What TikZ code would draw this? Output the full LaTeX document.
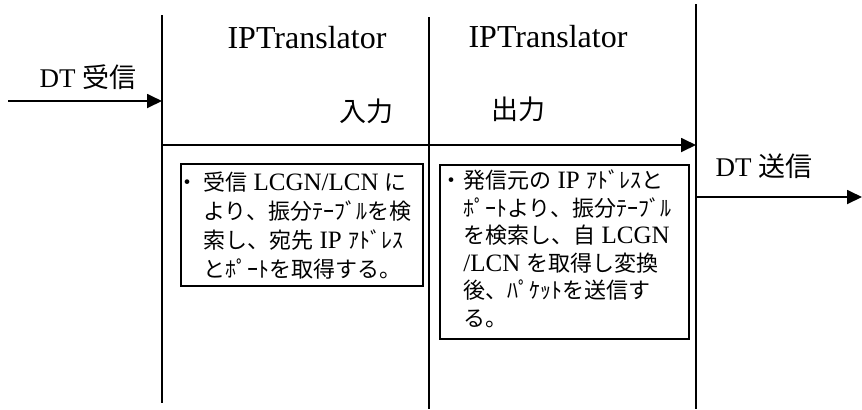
\documentclass[tikz,border=0pt]{standalone}
\usepackage{fontspec}
\setmainfont{Liberation Serif}
\newfontfamily\jp{Noto Sans CJK JP}
\newcommand\J[1]{{\fontsize{11}{13}\selectfont\jp #1}}
\usetikzlibrary{arrows.meta}
\begin{document}
\begin{tikzpicture}[x=0.5pt,y=-0.5pt,
  arr/.style={line width=0.9pt,-{Triangle[length=7.5pt,width=7pt]}},
  lane/.style={line width=0.9pt},
  box/.style={draw,line width=1.2pt},
  hdr/.style={font=\fontsize{16}{19}\selectfont,inner sep=0pt},
  lbl/.style={font=\fontsize{13.5}{16}\selectfont,inner sep=0pt},
  txt/.style={font=\fontsize{12.5}{14}\selectfont,inner sep=0pt,anchor=base west},
  bul/.style={font=\fontsize{11}{13}\selectfont\jp,inner sep=0pt,anchor=base},
]
\useasboundingbox (0,0) rectangle (862,409);
% lanes
\coordinate (l1t) at (162,15);  \coordinate (l1b) at (162,403);
\coordinate (l2t) at (429,17);  \coordinate (l2b) at (429,409);
\coordinate (l3t) at (696,4);   \coordinate (l3b) at (696,409);
\draw[lane] (l1t) -- (l1b);
\draw[lane] (l2t) -- (l2b);
\draw[lane] (l3t) -- (l3b);
% arrows
\coordinate (inS) at (8,101);   \coordinate (inE) at (162,101);
\coordinate (midS) at (162,145); \coordinate (midE) at (696,145);
\coordinate (outS) at (696,197); \coordinate (outE) at (862,197);
\draw[arr] (inS) -- (inE);
\draw[arr] (midS) -- (midE);
\draw[arr] (outS) -- (outE);
% labels
\node[hdr] (ipt1) at (307,38) {IPTranslator};
\node[hdr] (ipt2) at (548,37) {IPTranslator};
\node[lbl] (nyu) at (366,111) {\jp 入力};
\node[lbl] (shu) at (518,109) {\jp 出力};
\node[lbl] (dtin) at (88,77) {DT {\jp 受信}};
\node[lbl] (dtout) at (764,166) {DT {\jp 送信}};
% boxes
\node[box,minimum width=121pt,minimum height=61pt,anchor=north west,inner sep=0pt] (box1) at (180,163) {};
\node[box,minimum width=124.5pt,minimum height=87pt,anchor=north west,inner sep=0pt] (box2) at (439,164) {};
% box 1 text
\node[bul] (b1) at (187,190.5) {・};
\node[txt] (a1) at (203,190.5) {\J{受信} LCGN/LCN \J{に}};
\node[txt] (a2) at (203,219.5) {\J{より、振分ﾃｰﾌﾞﾙを検}};
\node[txt] (a3) at (203,248.5) {\J{索し、宛先} IP \J{ｱﾄﾞﾚｽ}};
\node[txt] (a4) at (203,277.5) {\J{とﾎﾟｰﾄを取得する。}};
% box 2 text
\node[bul] (b2) at (451,188.5) {・};
\node[txt] (c1) at (463,188.5) {\J{発信元の} IP \J{ｱﾄﾞﾚｽと}};
\node[txt] (c2) at (463,216) {\J{ﾎﾟｰﾄより、振分ﾃｰﾌﾞﾙ}};
\node[txt] (c3) at (463,243.5) {\J{を検索し、自} LCGN};
\node[txt] (c4) at (463,271) {/LCN \J{を取得し変換}};
\node[txt] (c5) at (463,298.5) {\J{後、ﾊﾟｹｯﾄを送信す}};
\node[txt] (c6) at (463,326) {\J{る。}};
\end{tikzpicture}
\end{document}
